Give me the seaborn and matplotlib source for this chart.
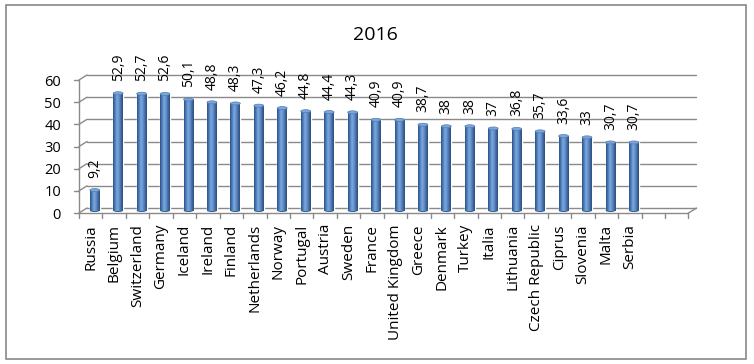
import numpy as np
import pandas as pd
import matplotlib
matplotlib.use("Agg")
import matplotlib.pyplot as plt
import seaborn as sns
from matplotlib.patches import Ellipse, Rectangle
from matplotlib.lines import Line2D
from matplotlib.colors import LinearSegmentedColormap
from matplotlib.transforms import ScaledTranslation

# ---------------- data ----------------
title = "2016"
countries = ["Russia", "Belgium", "Switzerland", "Germany", "Iceland", "Ireland",
             "Finland", "Netherlands", "Norway", "Portugal", "Austria", "Sweden",
             "France", "United Kingdom", "Greece", "Denmark", "Turkey", "Italia",
             "Lithuania", "Czech Republic", "Ciprus", "Slovenia", "Malta", "Serbia"]
values = [9.2, 52.9, 52.7, 52.6, 50.1, 48.8, 48.3, 47.3, 46.2, 44.8, 44.4, 44.3,
          40.9, 40.9, 38.7, 38, 38, 37, 36.8, 35.7, 33.6, 33, 30.7, 30.7]
y_ticks = [0, 10, 20, 30, 40, 50, 60]
n_slots = 26  # category axis has two empty slots after the last country

# ---------------- style ----------------
sns.set_theme(style="white")
plt.rcParams['font.family'] = ['Open Sans', 'DejaVu Sans']

W, H, DPI = 754, 364, 100
fig = plt.figure(figsize=(W / DPI, H / DPI), dpi=DPI)
fig.patch.set_facecolor('white')

# outer border of the chart area
fig.add_artist(Rectangle((5.5 / W, 1 - 358.5 / H), (746 - 5.5) / W, (358.5 - 4.5) / H,
                         transform=fig.transFigure, fill=False,
                         edgecolor='#888888', lw=1.2))

# axes = middle depth plane of the pseudo 3D chart
left, right, base, top = 83, 692.5, 210.5, 77.5
ax = fig.add_axes([left / W, 1 - base / H, (right - left) / W, (base - top) / H])
ax.set_facecolor('none')

df = pd.DataFrame({'country': countries, 'value': values})
sns.barplot(data=df, x='country', y='value', color='#4F81BD', width=0.42,
            saturation=1, ax=ax, zorder=3)

# cylinder-like shading
cmap = LinearSegmentedColormap.from_list(
    'cyl', ['#2E5283', '#4A7CB9', '#7EA7DD', '#6592CF', '#446DA4', '#2C4D7A'])
grad = np.linspace(0, 1, 64).reshape(1, -1)
ypx = 60 / (base - top)          # data units per pixel (y)
xpx = n_slots / (right - left)   # data units per pixel (x)
for p in list(ax.patches):
    x0, w, h = p.get_x(), p.get_width(), p.get_height()
    im = ax.imshow(grad, extent=[x0, x0 + w, 0, h], aspect='auto', cmap=cmap,
                   zorder=3, interpolation='bilinear')
    im.set_clip_path(p)
    ax.add_patch(Ellipse((x0 + w / 2, 0), w, 3 * ypx, facecolor='#35608F',
                         edgecolor='none', zorder=2.9, clip_on=False))
    ax.add_patch(Ellipse((x0 + w / 2, h), w, 3 * ypx, facecolor='#7FA5D9',
                         edgecolor='#4E7DB8', lw=0.5, zorder=4))

ax.set_xlim(-0.5, n_slots - 0.5)
ax.set_ylim(0, 60)
ax.set_xlabel('')
ax.set_ylabel('')
for s in ax.spines.values():
    s.set_visible(False)

# value labels
labels = [f"{v:g}".replace('.', ',') for v in values]
ax.bar_label(ax.containers[0], labels=labels, rotation=90, padding=9,
             fontsize=10, color='black')

# 3D frame: back wall gridlines, floor and front axes
dx, dy = 4 * xpx, 2.5 * ypx
gc = '#8A8A8A'
lw = 1.0
xl, xr = -0.5, n_slots - 0.5
for v in y_ticks:
    ax.add_line(Line2D([xl + dx, xr + dx], [v + dy, v + dy], color=gc, lw=lw,
                       zorder=1, clip_on=False))
    ax.add_line(Line2D([xl - dx, xl + dx], [v - dy, v + dy], color=gc, lw=lw,
                       zorder=1, clip_on=False))
    ax.add_line(Line2D([xl - dx - 5 * xpx, xl - dx], [v - dy, v - dy], color=gc,
                       lw=lw, zorder=1, clip_on=False))
# front vertical axis
ax.add_line(Line2D([xl - dx, xl - dx], [-dy, 60 - dy], color=gc, lw=lw,
                   zorder=1, clip_on=False))
# floor front edge and right edge
ax.add_line(Line2D([xl - dx, xr - dx], [-dy, -dy], color=gc, lw=lw,
                   zorder=1, clip_on=False))
ax.add_line(Line2D([xr - dx, xr + dx], [-dy, dy], color=gc, lw=lw,
                   zorder=1, clip_on=False))
# category tick marks
for k in range(n_slots + 1):
    xb = k - 0.5 - dx
    ax.add_line(Line2D([xb, xb], [-dy, -dy - 5 * ypx], color=gc, lw=lw,
                       zorder=1, clip_on=False))

# tick labels placed at the front plane
ax.set_yticks(y_ticks)
ax.tick_params(axis='both', length=0, colors='black')
ax.tick_params(axis='y', pad=13, labelsize=10.5)
ax.tick_params(axis='x', pad=8, labelrotation=90, labelsize=11)
off = ScaledTranslation(-0.04, -0.025, fig.dpi_scale_trans)
for lab in ax.get_yticklabels() + ax.get_xticklabels():
    lab.set_transform(lab.get_transform() + off)

fig.text(375 / W, 1 - 35 / H, title, ha='center', va='center', fontsize=14,
         color='black')

fig.savefig('out.png', dpi=DPI, facecolor='white')
